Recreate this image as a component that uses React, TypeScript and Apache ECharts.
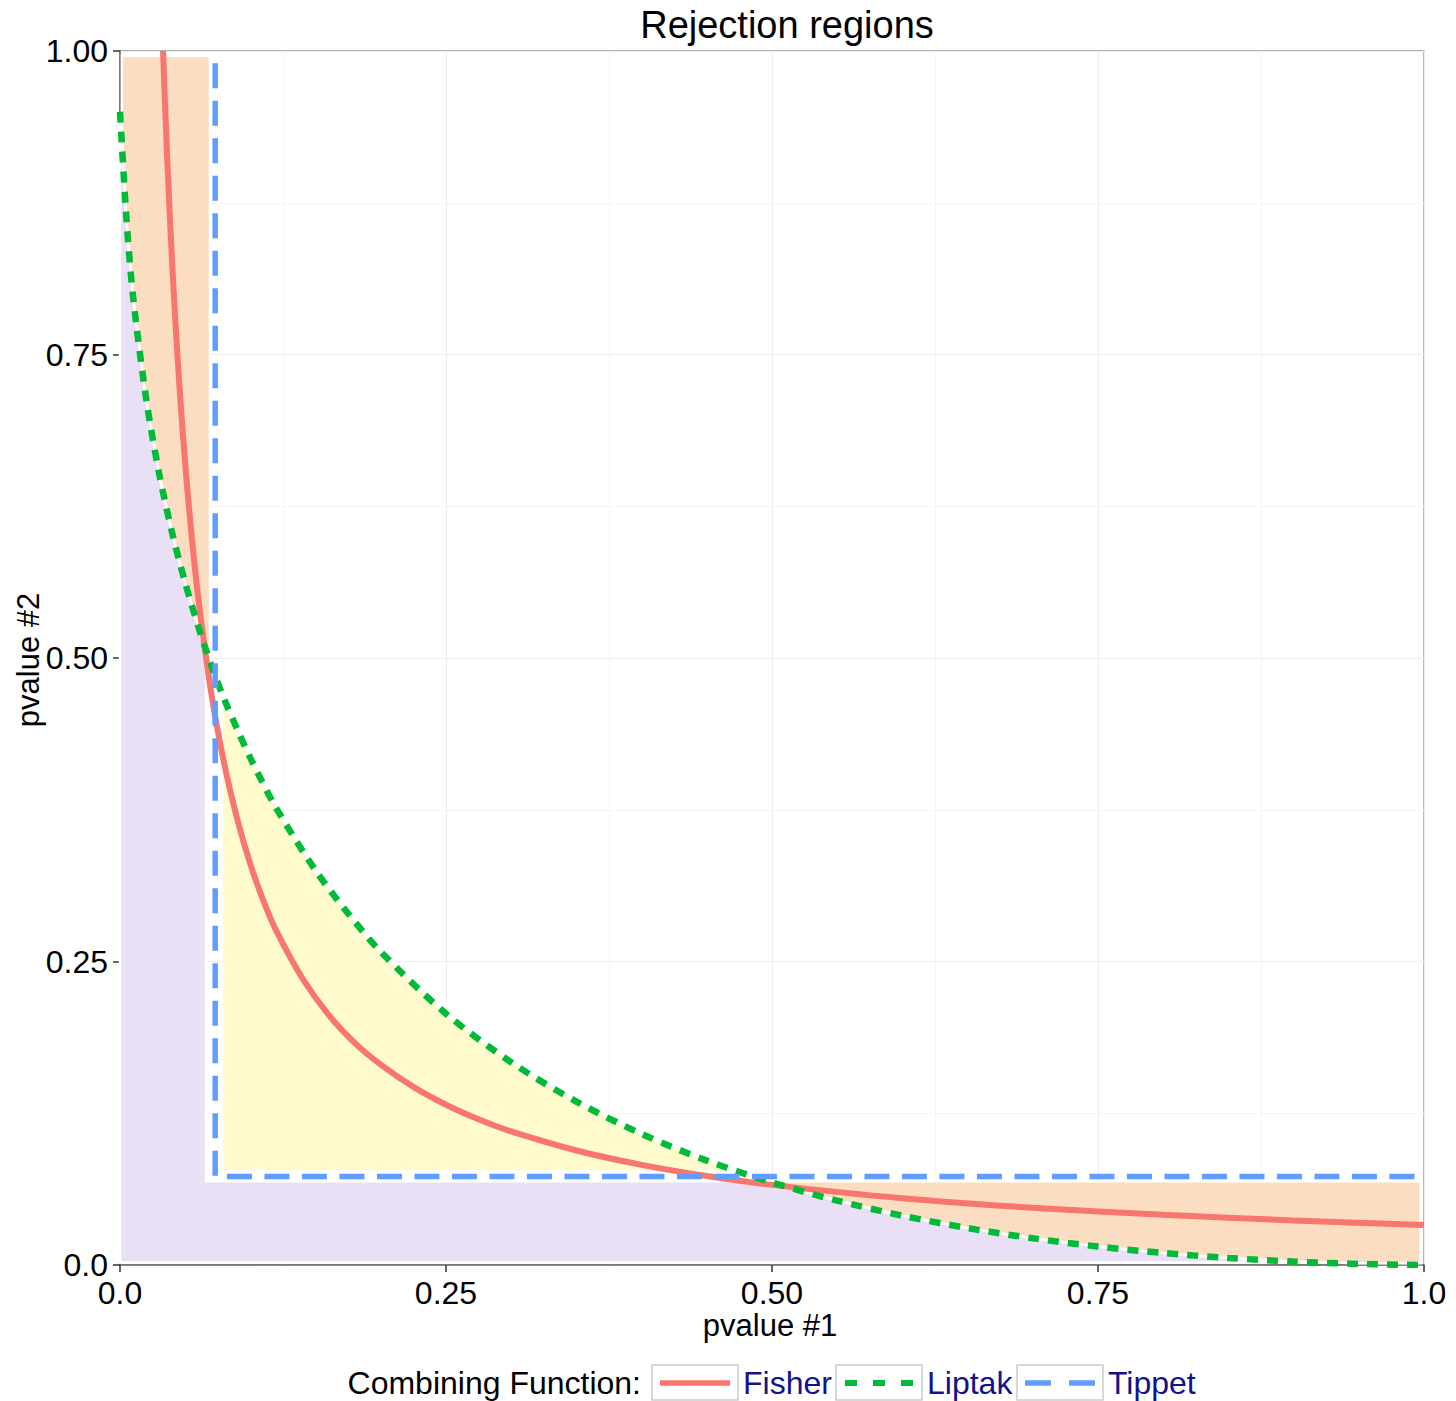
import React, { useEffect, useRef } from "react";
import * as echarts from "echarts";

// Tick labels as printed on the axes
const xTickLabels = ["0.0", "0.25", "0.50", "0.75", "1.0"];
const yTickLabels = ["0.0", "0.25", "0.50", "0.75", "1.00"];

// Fisher boundary
const fisherX = [0.033, 0.036, 0.04, 0.045, 0.05, 0.055, 0.06, 0.07, 0.08, 0.09, 0.1, 0.11, 0.12, 0.14, 0.16, 0.18, 0.2, 0.225, 0.25, 0.275, 0.3, 0.35, 0.4, 0.45, 0.5, 0.6, 0.7, 0.8, 0.9, 1.0];
const fisherY = [1.0, 0.917, 0.825, 0.733, 0.66, 0.6, 0.55, 0.471, 0.4125, 0.367, 0.33, 0.3, 0.275, 0.236, 0.206, 0.183, 0.165, 0.1467, 0.132, 0.12, 0.11, 0.0943, 0.0825, 0.0733, 0.066, 0.055, 0.0471, 0.0413, 0.0367, 0.033];

// Liptak boundary
const liptakX = [0.0, 0.005, 0.01, 0.02, 0.03, 0.04, 0.05, 0.06, 0.07, 0.08, 0.09, 0.1, 0.12, 0.15, 0.175, 0.2, 0.25, 0.3, 0.35, 0.4, 0.45, 0.5, 0.55, 0.6, 0.65, 0.7, 0.75, 0.8, 0.85, 0.9, 0.95, 1.0];
const liptakY = [0.95, 0.861, 0.798, 0.714, 0.652, 0.603, 0.562, 0.526, 0.494, 0.466, 0.441, 0.4175, 0.376, 0.325, 0.2895, 0.258, 0.207, 0.167, 0.1346, 0.108, 0.086, 0.068, 0.053, 0.0406, 0.0304, 0.022, 0.0152, 0.0099, 0.0058, 0.0028, 0.0009, 0.0];

// Tippet boundary
const tippetX = [0.073, 0.073, 1.0];
const tippetY = [0.99, 0.073, 0.073];

// Filled regions (polygon vertices)
const purpleX = [0.0, 0.0, 0.005, 0.01, 0.02, 0.03, 0.04, 0.05, 0.06, 0.066, 0.066, 0.487, 0.5, 0.55, 0.6, 0.65, 0.7, 0.75, 0.8, 0.85, 0.9, 0.95, 0.0];
const purpleY = [0.002, 0.945, 0.861, 0.798, 0.714, 0.652, 0.603, 0.562, 0.526, 0.505, 0.069, 0.069, 0.068, 0.053, 0.0406, 0.0304, 0.022, 0.0152, 0.0099, 0.0058, 0.0028, 0.002, 0.002];

const orangeTopX = [0.0015, 0.069, 0.069, 0.06, 0.05, 0.04, 0.03, 0.02, 0.01, 0.005, 0.0015];
const orangeTopY = [0.996, 0.996, 0.497, 0.526, 0.562, 0.603, 0.652, 0.714, 0.798, 0.861, 0.93];

const yellowX = [0.078, 0.078, 0.08, 0.09, 0.1, 0.12, 0.15, 0.175, 0.2, 0.25, 0.3, 0.35, 0.4, 0.45, 0.475];
const yellowY = [0.077, 0.471, 0.466, 0.441, 0.4175, 0.376, 0.325, 0.2895, 0.258, 0.207, 0.167, 0.1346, 0.108, 0.086, 0.077];

const orangeBotX = [0.487, 0.9975, 0.9975, 0.95, 0.9, 0.85, 0.8, 0.75, 0.7, 0.65, 0.6, 0.55, 0.5];
const orangeBotY = [0.069, 0.069, 0.0015, 0.0015, 0.0028, 0.0058, 0.0099, 0.0152, 0.022, 0.0304, 0.0406, 0.053, 0.068];

const FONT = "Liberation Sans, Arial, sans-serif";
const RED = "#F8766D";
const GREEN = "#00BA38";
const BLUE = "#619CFF";

const zip = (xs: number[], ys: number[]) => xs.map((x, i) => [x, ys[i]]);

const polySeries = (name: string, xs: number[], ys: number[], fill: string) => {
  const pts = zip(xs, ys);
  return {
    type: "custom",
    name,
    data: pts,
    silent: true,
    z: 1,
    renderItem: (params: any, api: any) => {
      if (params.dataIndex !== 0) return null;
      const points = pts.map((p) => api.coord(p));
      return {
        type: "polygon",
        shape: { points },
        style: { fill, stroke: "#ffffff", lineWidth: 2.5 },
      };
    },
  };
};

export default function App() {
  const ref = useRef<HTMLDivElement>(null);
  useEffect(() => {
    document.body.style.margin = "0";
    const chart = echarts.init(ref.current!, null, { renderer: "svg" });
    const legendY = 1383;
    const option: any = {
      animation: false,
      backgroundColor: "#ffffff",
      grid: {
        left: 120,
        top: 51,
        width: 1304,
        height: 1214,
        show: true,
        borderColor: "#9a9a9a",
        borderWidth: 1.5,
        backgroundColor: "transparent",
      },
      xAxis: {
        type: "value",
        min: 0,
        max: 1,
        interval: 0.25,
        axisLine: { show: true, lineStyle: { color: "#666", width: 1.5 } },
        axisTick: { show: true, length: 7, lineStyle: { color: "#333", width: 1.5 } },
        axisLabel: {
          margin: 12,
          color: "#000",
          fontSize: 32,
          fontFamily: FONT,
          formatter: (v: number) => xTickLabels[Math.round(v / 0.25)],
        },
        splitLine: { show: true, lineStyle: { color: "#EDEDED", width: 1.2 } },
        minorTick: { show: false, splitNumber: 2 },
        minorSplitLine: { show: true, lineStyle: { color: "#F5F5F5", width: 1 } },
      },
      yAxis: {
        type: "value",
        min: 0,
        max: 1,
        interval: 0.25,
        axisLine: { show: true, lineStyle: { color: "#666", width: 1.5 } },
        axisTick: { show: true, length: 7, lineStyle: { color: "#333", width: 1.5 } },
        axisLabel: {
          margin: 12,
          color: "#000",
          fontSize: 32,
          fontFamily: FONT,
          formatter: (v: number) => yTickLabels[Math.round(v / 0.25)],
        },
        splitLine: { show: true, lineStyle: { color: "#EDEDED", width: 1.2 } },
        minorTick: { show: false, splitNumber: 2 },
        minorSplitLine: { show: true, lineStyle: { color: "#F5F5F5", width: 1 } },
      },
      series: [
        polySeries("purple", purpleX, purpleY, "#E9E0F5"),
        polySeries("orangeTop", orangeTopX, orangeTopY, "#FBDEC1"),
        polySeries("yellow", yellowX, yellowY, "#FFFBCC"),
        polySeries("orangeBot", orangeBotX, orangeBotY, "#FBDEC1"),
        {
          type: "line",
          name: "Fisher",
          data: zip(fisherX, fisherY),
          showSymbol: false,
          symbol: "none",
          smooth: 0.3,
          z: 3,
          lineStyle: { color: RED, width: 6 },
        },
        {
          type: "line",
          name: "Liptak",
          data: zip(liptakX, liptakY),
          showSymbol: false,
          symbol: "none",
          smooth: 0.3,
          z: 4,
          lineStyle: { color: GREEN, width: 6.5, type: [11, 9] },
        },
        {
          type: "line",
          name: "Tippet",
          data: zip(tippetX, tippetY),
          showSymbol: false,
          symbol: "none",
          z: 5,
          lineStyle: { color: BLUE, width: 5.5, type: [25, 12.5] },
        },
      ],
      graphic: [
        {
          type: "text",
          x: 787,
          y: 25,
          style: { text: "Rejection regions", font: `38px ${FONT}`, fill: "#000", align: "center", verticalAlign: "middle" },
        },
        {
          type: "text",
          x: 770,
          y: 1325,
          style: { text: "pvalue #1", font: `31px ${FONT}`, fill: "#000", align: "center", verticalAlign: "middle" },
        },
        {
          type: "text",
          x: 28,
          y: 660,
          rotation: Math.PI / 2,
          style: { text: "pvalue #2", font: `31px ${FONT}`, fill: "#000", align: "center", verticalAlign: "middle" },
        },
        {
          type: "text",
          x: 641,
          y: legendY,
          style: { text: "Combining Function:", font: `32px ${FONT}`, fill: "#000", align: "right", verticalAlign: "middle" },
        },
        // Fisher key
        { type: "rect", shape: { x: 652, y: 1365, width: 86, height: 35 }, style: { fill: "#fff", stroke: "#CCCCCC", lineWidth: 1.5 } },
        { type: "line", shape: { x1: 660, y1: legendY, x2: 730, y2: legendY }, style: { stroke: RED, lineWidth: 5.5 } },
        { type: "text", x: 743, y: legendY, style: { text: "Fisher", font: `32px ${FONT}`, fill: "#12128A", align: "left", verticalAlign: "middle" } },
        // Liptak key
        { type: "rect", shape: { x: 836, y: 1365, width: 86, height: 35 }, style: { fill: "#fff", stroke: "#CCCCCC", lineWidth: 1.5 } },
        { type: "line", shape: { x1: 845, y1: legendY, x2: 913, y2: legendY }, style: { stroke: GREEN, lineWidth: 6, lineDash: [12, 16] } },
        { type: "text", x: 927, y: legendY, style: { text: "Liptak", font: `32px ${FONT}`, fill: "#12128A", align: "left", verticalAlign: "middle" } },
        // Tippet key
        { type: "rect", shape: { x: 1017, y: 1365, width: 86, height: 35 }, style: { fill: "#fff", stroke: "#CCCCCC", lineWidth: 1.5 } },
        { type: "line", shape: { x1: 1025, y1: legendY, x2: 1095, y2: legendY }, style: { stroke: BLUE, lineWidth: 5.5, lineDash: [26, 18] } },
        { type: "text", x: 1108, y: legendY, style: { text: "Tippet", font: `32px ${FONT}`, fill: "#12128A", align: "left", verticalAlign: "middle" } },
      ],
    };
    chart.setOption(option);
    return () => chart.dispose();
  }, []);
  return <div ref={ref} style={{ width: 1456, height: 1401 }} />;
}
